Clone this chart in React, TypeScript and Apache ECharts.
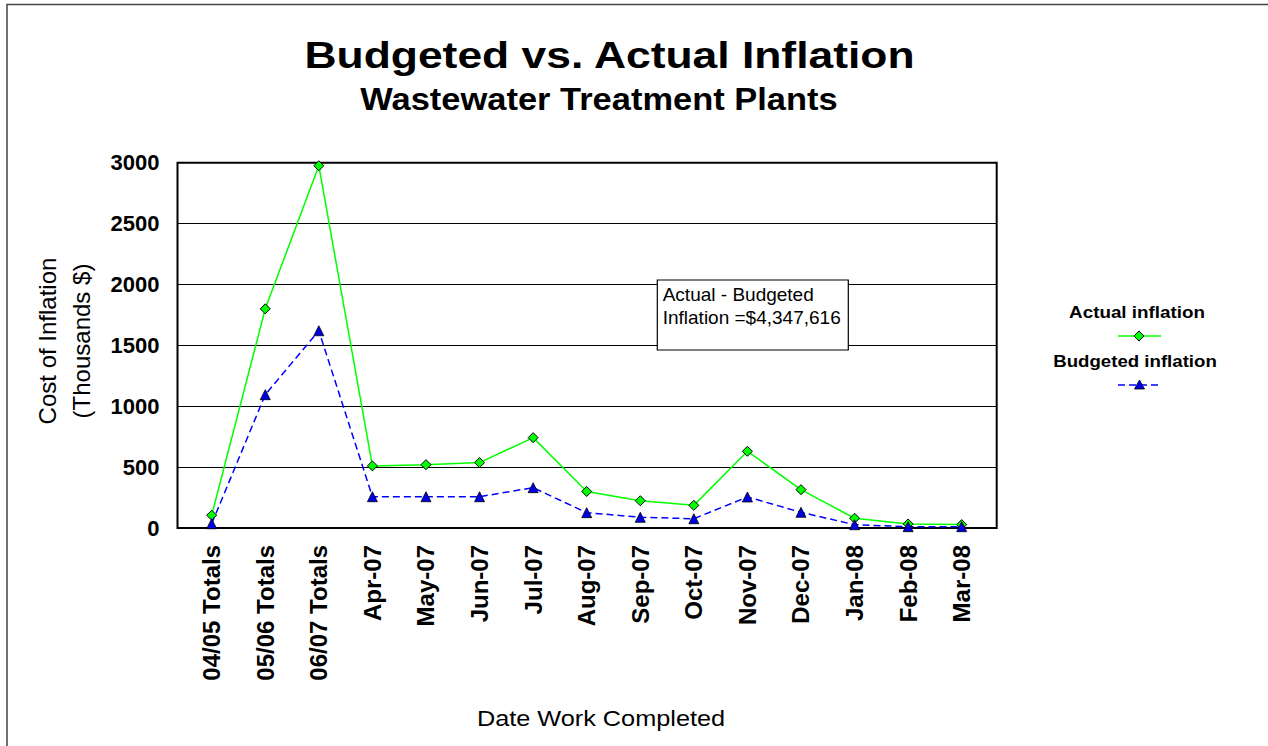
import React, { useEffect, useRef } from 'react';
import * as echarts from 'echarts';

const categories = [
  '04/05 Totals', '05/06 Totals', '06/07 Totals', 'Apr-07', 'May-07', 'Jun-07', 'Jul-07',
  'Aug-07', 'Sep-07', 'Oct-07', 'Nov-07', 'Dec-07', 'Jan-08', 'Feb-08', 'Mar-08',
];
const actualInflation = [105, 1800, 2975, 510, 520, 537, 742, 300, 224, 186, 630, 315, 80, 33, 28];
const budgetedInflation = [35, 1095, 1620, 257, 257, 257, 331, 126, 88, 76, 255, 129, 27, 11, 11];
const yMin = 0;
const yMax = 3000;
const yInterval = 500;

const titleText = 'Budgeted vs. Actual Inflation';
const subtitleText = 'Wastewater Treatment Plants';
const yAxisTitle = 'Cost of Inflation\n(Thousands $)';
const xAxisTitle = 'Date Work Completed';
const seriesNames = ['Actual inflation', 'Budgeted inflation'];
const noteText = 'Actual - Budgeted\nInflation =$4,347,616';

const FONT = '"Liberation Sans", Arial, Helvetica, sans-serif';

export default function App() {
  const ref = useRef<HTMLDivElement>(null);
  useEffect(() => {
    const chart = echarts.init(ref.current!, null, { renderer: 'svg' });
    const plotTop = 162.7;
    const plotH = 365.3;
    chart.setOption({
      animation: false,
      backgroundColor: '#fff',
      textStyle: { fontFamily: FONT },
      grid: [
        { left: 177.5, top: plotTop, width: 819.2, height: plotH, show: true, borderColor: '#000', borderWidth: 2, backgroundColor: 'transparent', z: 1 },
        { left: 184.9, top: plotTop, width: 803.6, height: plotH },
      ],
      xAxis: [
        { gridIndex: 0, type: 'value', min: 0, max: 1, show: false },
        {
          gridIndex: 1, type: 'category', data: categories, boundaryGap: true,
          axisLine: { show: false }, axisTick: { show: false }, splitLine: { show: false },
          axisLabel: { rotate: 90, interval: 0, fontSize: 24, fontWeight: 'bold', color: '#000', margin: 17, fontFamily: FONT },
        },
      ],
      yAxis: [
        {
          gridIndex: 0, type: 'value', min: yMin, max: yMax, interval: yInterval,
          axisLine: { show: false }, axisTick: { show: false },
          splitLine: { show: true, lineStyle: { color: '#000', width: 1 } },
          axisLabel: { fontSize: 22, fontWeight: 'bold', color: '#000', margin: 18, fontFamily: FONT, formatter: (v: number) => String(v) },
        },
        { gridIndex: 1, type: 'value', min: yMin, max: yMax, interval: yInterval, show: false, splitLine: { show: false } },
      ],
      series: [
        {
          name: seriesNames[0], type: 'line', xAxisIndex: 1, yAxisIndex: 1, data: actualInflation,
          symbol: 'diamond', symbolSize: 10, z: 3,
          lineStyle: { color: '#00FF00', width: 1.5 },
          itemStyle: { color: '#00FF00', borderColor: '#000', borderWidth: 1 },
        },
        {
          name: seriesNames[1], type: 'line', xAxisIndex: 1, yAxisIndex: 1, data: budgetedInflation,
          symbol: 'triangle', symbolSize: 10, z: 4,
          lineStyle: { color: '#0000FF', width: 1.5, type: [7, 4] },
          itemStyle: { color: '#0000E6', borderColor: '#000', borderWidth: 0.8 },
        },
      ],
      graphic: [
        { type: 'rect', z: 100, shape: { x: 7, y: 4.5, width: 1300, height: 800 }, style: { fill: 'none', stroke: '#444', lineWidth: 1.5 }, silent: true },
        { type: 'text', z: 100, x: 609.5, y: 55, scaleX: 1.2, style: { text: titleText, fontSize: 37, fontWeight: 'bold', fontFamily: FONT, fill: '#000', align: 'center', verticalAlign: 'middle' } },
        { type: 'text', z: 100, x: 599, y: 100, scaleX: 1.13, style: { text: subtitleText, fontSize: 30.5, fontWeight: 'bold', fontFamily: FONT, fill: '#000', align: 'center', verticalAlign: 'middle' } },
        { type: 'text', z: 100, x: 601, y: 719, scaleX: 1.15, style: { text: xAxisTitle, fontSize: 22, fontFamily: FONT, fill: '#000', align: 'center', verticalAlign: 'middle' } },
        { type: 'text', z: 100, x: 64, y: 341, rotation: Math.PI / 2, style: { text: yAxisTitle, fontSize: 24, lineHeight: 34, fontFamily: FONT, fill: '#000', align: 'center', verticalAlign: 'middle' } },
        // legend
        { type: 'text', z: 100, x: 1137, y: 312.5, scaleX: 1.14, style: { text: seriesNames[0], fontSize: 16.5, fontWeight: 'bold', fontFamily: FONT, fill: '#000', align: 'center', verticalAlign: 'middle' } },
        { type: 'line', z: 100, shape: { x1: 1118, y1: 336, x2: 1161, y2: 336 }, style: { stroke: '#00FF00', lineWidth: 1.5 } },
        { type: 'polygon', z: 101, shape: { points: [[1139, 331], [1144, 336], [1139, 341], [1134, 336]] }, style: { fill: '#00FF00', stroke: '#000', lineWidth: 1 } },
        { type: 'text', z: 100, x: 1135, y: 361, scaleX: 1.13, style: { text: seriesNames[1], fontSize: 16.5, fontWeight: 'bold', fontFamily: FONT, fill: '#000', align: 'center', verticalAlign: 'middle' } },
        { type: 'line', z: 100, shape: { x1: 1118, y1: 385, x2: 1158, y2: 385 }, style: { stroke: '#0000FF', lineWidth: 1.5, lineDash: [7, 4] } },
        { type: 'polygon', z: 101, shape: { points: [[1139.5, 380], [1144.5, 389], [1134.5, 389]] }, style: { fill: '#0000E6', stroke: '#000', lineWidth: 0.8 } },
        // annotation box
        { type: 'rect', z: 100, shape: { x: 657.3, y: 280, width: 191, height: 70 }, style: { fill: '#fff', stroke: '#000', lineWidth: 1.2 } },
        { type: 'text', z: 101, x: 662.7, y: 306.2, style: { text: noteText, fontSize: 19, lineHeight: 22.5, fontFamily: FONT, fill: '#000', align: 'left', verticalAlign: 'middle' } },
      ],
    });
    return () => chart.dispose();
  }, []);
  return (
    <div
      ref={ref}
      style={{ position: 'absolute', left: 0, top: 0, width: 1268, height: 746, background: '#fff' }}
    />
  );
}
